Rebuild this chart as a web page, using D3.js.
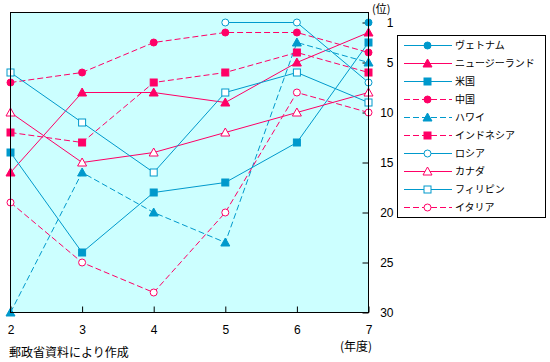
<!DOCTYPE html>
<html><head><meta charset="utf-8">
<script src="https://cdn.jsdelivr.net/npm/d3@7"></script>
<style>
body{margin:0;background:#fff;}
text{font-family:"Noto Sans CJK JP",sans-serif;fill:#000;}
.tick text{font-family:"Liberation Sans",Arial,sans-serif;}
</style></head>
<body><svg id="c" width="550" height="362"></svg>
<script>
const years = [2,3,4,5,6,7];
const rankTicks = [1,5,10,15,20,25,30];
const names = ["ヴェトナム","ニュージーランド","米国","中国","ハワイ","インドネシア","ロシア","カナダ","フィリピン","イタリア"];
const vietnam     = [null,null,null,null,null,1];
const newzealand  = [16,8,8,9,5,2];
const usa         = [14,24,18,17,13,3];
const china       = [7,6,3,2,2,4];
const hawaii      = [30,16,20,23,3,5];
const indonesia   = [12,13,7,6,4,6];
const russia      = [null,null,null,1,1,7];
const canada      = [10,15,14,12,10,8];
const philippines = [6,11,16,8,6,9];
const italy       = [19,25,28,20,8,10];

const BLUE="#0099cc", PINK="#ff0066";
const seriesData=[vietnam,newzealand,usa,china,hawaii,indonesia,russia,canada,philippines,italy];
const styles=[
 {c:BLUE,m:"circle",f:true,d:false},
 {c:PINK,m:"triangle",f:true,d:false},
 {c:BLUE,m:"square",f:true,d:false},
 {c:PINK,m:"circle",f:true,d:true},
 {c:BLUE,m:"triangle",f:true,d:true},
 {c:PINK,m:"square",f:true,d:true},
 {c:BLUE,m:"circle",f:false,d:false},
 {c:PINK,m:"triangle",f:false,d:false},
 {c:BLUE,m:"square",f:false,d:false},
 {c:PINK,m:"circle",f:false,d:true}
];

const svg=d3.select("#c");
const L=10.5,R=368.5,T=12.5,B=312.5;
const x=d3.scaleLinear().domain([2,7]).range([L,R]);
const y=d3.scaleLinear().domain([0,30]).range([T,B]);

svg.append("rect").attr("x",L).attr("y",T).attr("width",R-L).attr("height",B-T).attr("fill","#ccffff");

const xa=svg.append("g").attr("transform",`translate(0,${B})`)
 .call(d3.axisBottom(x).tickValues(years).tickFormat(d3.format("d")).tickSize(-6).tickPadding(13));
xa.select(".domain").remove();
xa.selectAll("line").attr("stroke","#000");
xa.selectAll("text").attr("font-size","12px");

const ya=svg.append("g").attr("transform",`translate(${R},0)`)
 .call(d3.axisRight(y).tickValues(rankTicks).tickSize(-6).tickPadding(6));
ya.select(".domain").remove();
ya.selectAll("line").attr("stroke","#000");
ya.selectAll("text").attr("font-size","12px").attr("text-anchor","end").attr("x",25);

function marker(g,type,cx,cy,col,filled){
  const fill=filled?col:"#fff";
  if(type==="circle") g.append("circle").attr("cx",cx).attr("cy",cy).attr("r",3.5).attr("fill",fill).attr("stroke",col).attr("stroke-width",1);
  else if(type==="square") g.append("rect").attr("x",cx-3.5).attr("y",cy-3.5).attr("width",7).attr("height",7).attr("fill",fill).attr("stroke",col).attr("stroke-width",1);
  else g.append("path").attr("d",`M${cx},${cy-4.5}L${cx+4.5},${cy+3.5}L${cx-4.5},${cy+3.5}Z`).attr("fill",fill).attr("stroke",col).attr("stroke-width",1);
}

const line=d3.line().defined(d=>d[1]!=null).x(d=>x(d[0])).y(d=>y(d[1]));
const gLines=svg.append("g"), gMarks=svg.append("g");
seriesData.forEach((s,i)=>{
  const st=styles[i];
  const pts=years.map((yr,j)=>[yr,s[j]]);
  gLines.append("path").attr("d",line(pts)).attr("fill","none").attr("stroke",st.c).attr("stroke-width",1)
    .attr("stroke-dasharray",st.d?"6,3":null);
  pts.filter(p=>p[1]!=null).forEach(p=>marker(gMarks,st.m,x(p[0]),y(p[1]),st.c,st.f));
});

svg.append("rect").attr("x",L).attr("y",T).attr("width",R-L).attr("height",B-T).attr("fill","none").attr("stroke","#000").attr("stroke-width",1);

const lg=svg.append("g");
lg.append("rect").attr("x",397.5).attr("y",35.5).attr("width",148).attr("height",182).attr("fill","#fff").attr("stroke","#000");
names.forEach((n,i)=>{
  const st=styles[i], yy=45+i*18;
  lg.append("line").attr("x1",404).attr("x2",452).attr("y1",yy+0.5).attr("y2",yy+0.5).attr("stroke",st.c).attr("stroke-dasharray",st.d?"6,3":null);
  marker(lg,st.m,427.5,yy+0.5,st.c,st.f);
  lg.append("text").attr("x",455).attr("y",yy).attr("dy","0.36em").attr("font-size","10px").text(n);
});

svg.append("text").attr("x",372).attr("y",13).attr("font-size","11px").text("(位)");
svg.append("text").attr("x",340).attr("y",347).attr("dy","0.36em").attr("font-size","12px").text("(年度)");
svg.append("text").attr("x",9).attr("y",353).attr("dy","0.36em").attr("font-size","12px").text("郵政省資料により作成");
</script></body></html>
